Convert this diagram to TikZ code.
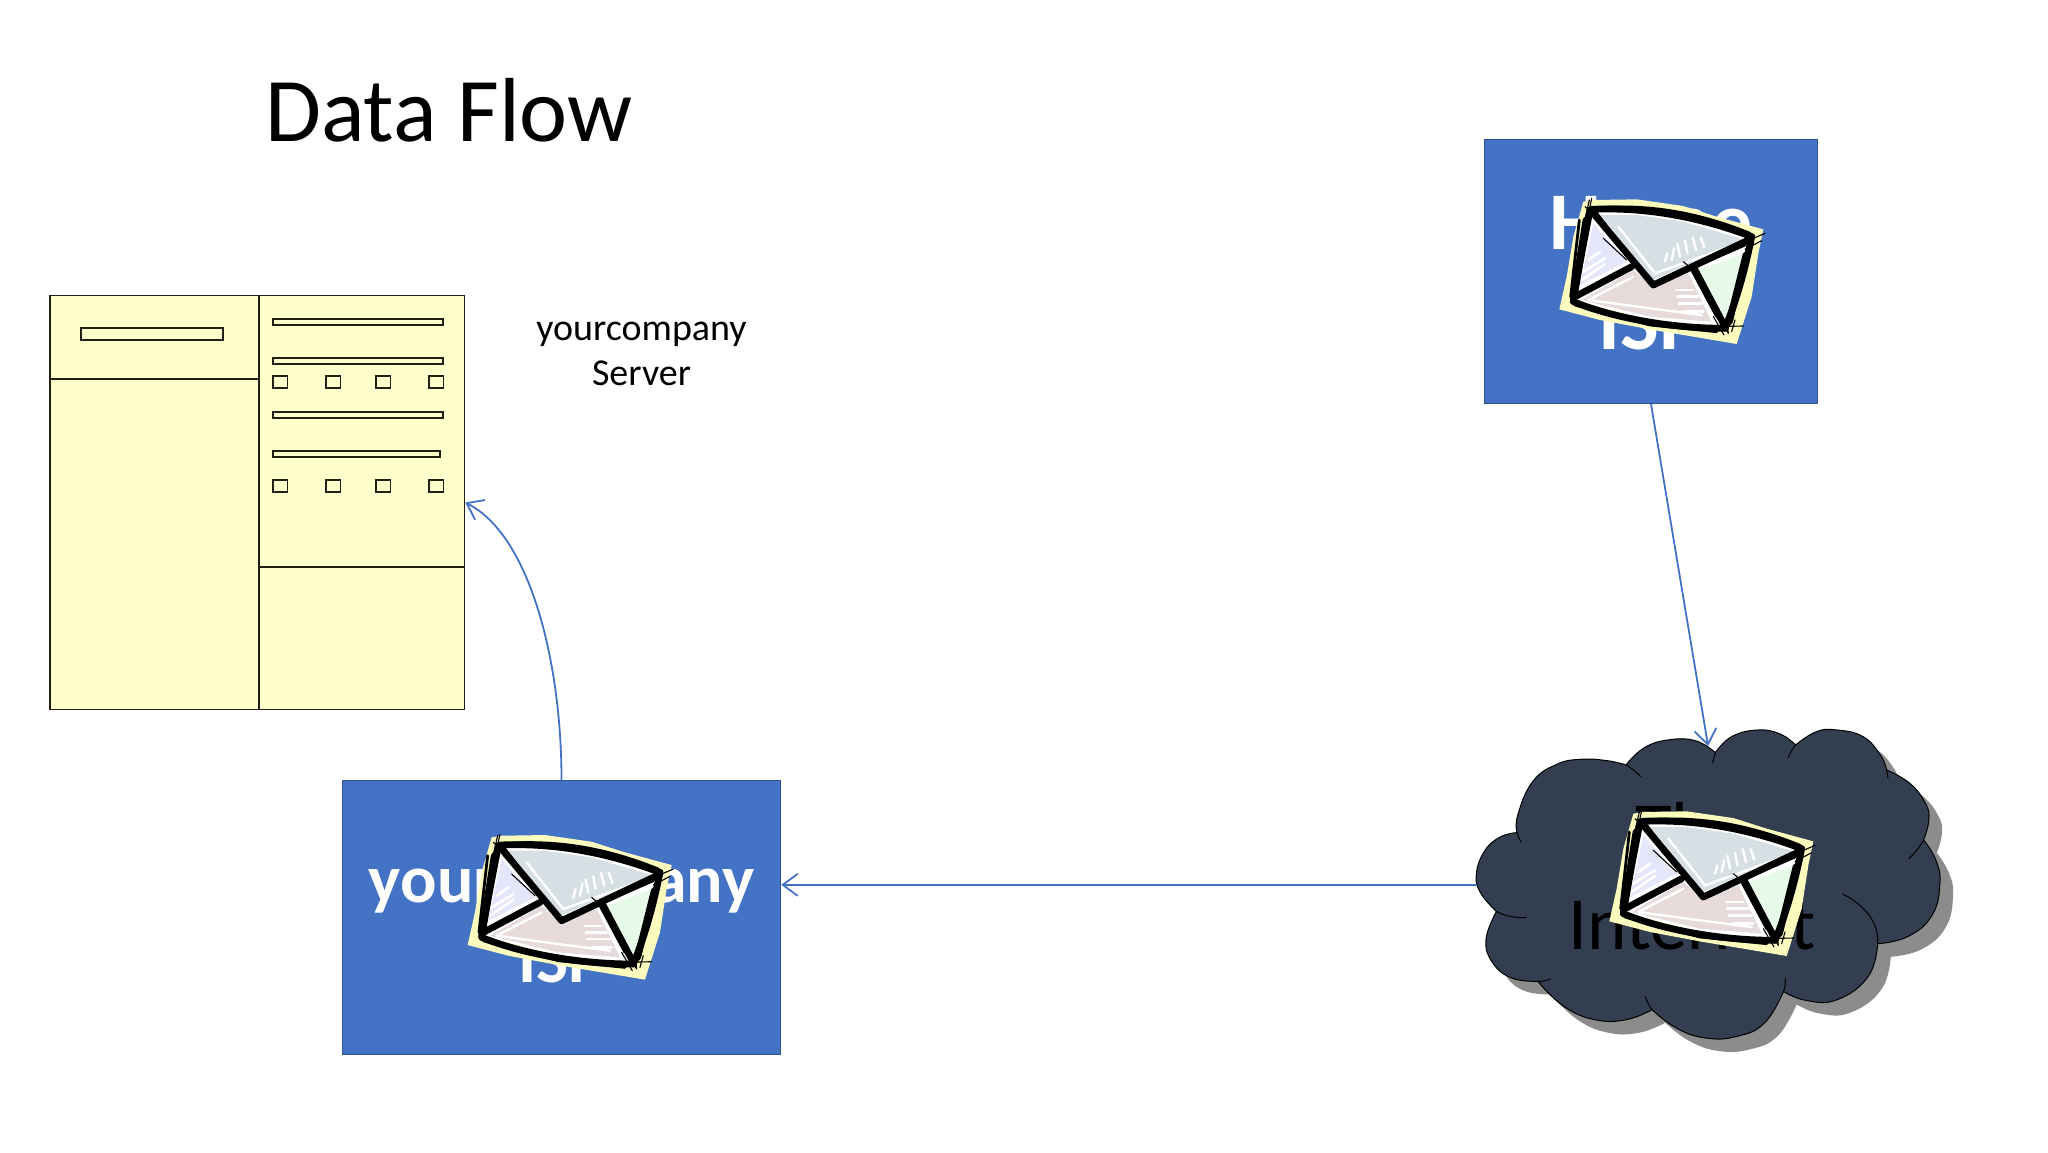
\documentclass[tikz,border=0pt]{standalone}
\usepackage{fontspec}
\setmainfont{Carlito}
\usetikzlibrary{arrows.meta}
\definecolor{ispblue}{HTML}{4472C4}
\definecolor{ispedge}{HTML}{2F528F}
\definecolor{cloudfill}{HTML}{333F50}
\definecolor{cloudshade}{HTML}{8C8C8C}
\definecolor{serverfill}{HTML}{FFFFCC}
\definecolor{serveredge}{HTML}{1F1F14}
\definecolor{mailyellow}{HTML}{FBFBBE}
\definecolor{flapgrey}{HTML}{D6E0E4}
\definecolor{leftlav}{HTML}{E6E6FA}
\definecolor{lowpink}{HTML}{E6DADA}
\definecolor{rightgreen}{HTML}{E6FAE8}
\tikzset{
  ispbox/.style={draw=ispedge,line width=.7pt,fill=ispblue,text=white,align=center,inner sep=0pt,font=\bfseries},
  serverline/.style={draw=serveredge,line width=.8pt},
  serverbar/.style={draw=serveredge,line width=.8pt,fill=serverfill},
  flowline/.style={draw=ispblue,line width=.9pt,-{Straight Barb[length=7.5pt,width=11pt,line width=.9pt]}},
  mailink/.style={draw=black,line width=3.4pt,line cap=round,line join=round},
  mailmid/.style={draw=black,line width=1.4pt,line cap=round},
  mailthin/.style={draw=black,line width=.55pt,line cap=round},
  mailwhite/.style={draw=white,line width=1.2pt,line cap=round},
  cloudarc/.style={draw=black,line width=.5pt}
}
\newcommand{\cloudshape}{
  plot[smooth,tension=.75] coordinates {(105,575)(60,520)(47,465)(70,395)(115,352)(165,338)}
  -- plot[smooth,tension=.75] coordinates {(165,338)(167,285)(210,185)(280,133)(350,118)(425,122)(480,135)}
  -- plot[smooth,tension=.75] coordinates {(480,135)(530,85)(600,60)(680,62)(738,98)}
  -- plot[smooth,tension=.75] coordinates {(738,98)(785,50)(860,30)(925,42)(970,75)}
  -- plot[smooth,tension=.75] coordinates {(970,75)(1030,35)(1090,30)(1165,50)(1215,105)(1233,150)}
  -- plot[smooth,tension=.75] coordinates {(1233,150)(1300,190)(1345,250)(1355,300)(1340,360)}
  -- plot[smooth,tension=.75] coordinates {(1340,360)(1375,420)(1387,490)(1365,585)(1295,650)(1207,672)}
  -- plot[smooth,tension=.75] coordinates {(1207,672)(1180,770)(1090,840)(1000,842)(935,815)}
  -- plot[smooth,tension=.75] coordinates {(935,815)(880,910)(800,950)(710,955)(625,925)(555,870)}
  -- plot[smooth,tension=.75] coordinates {(555,870)(480,900)(390,900)(300,860)(225,785)}
  -- plot[smooth,tension=.75] coordinates {(225,785)(150,775)(95,730)(75,660)(105,575)}
  -- cycle
}
\newcommand{\mailicon}[2]{%
\begin{scope}[shift={(#1,#2)},scale=1/3]
  \fill[mailyellow] (400,245) -- (430,240) -- (560,238) -- (700,258) -- (800,290) -- (940,328) -- (925,400) -- (905,530) -- (860,672) -- (760,655) -- (610,630) -- (450,600) -- (328,568) -- (350,470) -- (370,350) -- (390,280) -- cycle;
  \fill[white] (420,270) -- (560,265) -- (700,285) -- (905,350) -- (825,625) -- (600,600) -- (370,540) -- cycle;
  \fill[flapgrey] (450,285) -- (560,285) -- (700,305) -- (880,358) -- (610,480) -- cycle;
  \fill[leftlav] (430,310) -- (530,425) -- (390,495) -- cycle;
  \fill[lowpink] (395,540) -- (550,450) -- (605,500) -- (715,460) -- (785,605) -- (600,590) -- cycle;
  \fill[rightgreen] (745,450) -- (895,395) -- (830,600) -- cycle;
  \draw[mailwhite] (505,320) -- (615,460) -- (880,365);
  \draw[mailwhite] (645,425) -- (652,400) (665,420) -- (672,385) (690,410) -- (682,372) (712,400) -- (705,362) (738,390) -- (728,352) (762,382) -- (752,352);
  \draw[mailwhite] (395,480) -- (465,432) (400,455) -- (465,415) (415,420) -- (450,395);
  \draw[mailwhite] (415,540) -- (550,470) (415,540) -- (600,565) -- (755,585);
  \draw[mailwhite] (678,510) -- (730,510) (682,530) -- (745,530) (685,550) -- (755,550) (700,575) -- (760,575);
  \draw[mailink] (420,270) -- (395,400) -- (370,540);
  \draw[mailink] (408,300) -- (372,525);
  \draw[mailink] (425,268) .. controls (560,262) and (720,280) .. (905,350);
  \draw[mailink] (905,350) .. controls (885,450) and (860,540) .. (825,625);
  \draw[mailink] (888,405) -- (838,605);
  \draw[mailink] (370,545) .. controls (480,590) and (650,625) .. (825,625);
  \draw[mailink] (430,280) -- (610,495) -- (900,358);
  \draw[mailink] (375,530) -- (545,440);
  \draw[mailink] (735,450) -- (825,620);
  \draw[mailmid] (388,300) -- (362,530) (405,300) -- (382,500);
  \draw[mailmid] (460,262) .. controls (600,255) and (740,275) .. (900,340);
  \draw[mailmid] (880,420) -- (840,610) (870,470) -- (845,600);
  \draw[mailmid] (375,555) -- (600,615) -- (800,635);
  \draw[mailmid] (720,440) -- (800,590) (440,280) -- (540,410) (700,455) -- (885,375);
  \draw[mailthin] (405,260) -- (445,295) (425,235) -- (405,330) (418,240) -- (395,340);
  \draw[mailthin] (945,340) -- (880,368) (935,362) -- (885,388);
  \draw[mailthin] (880,618) -- (790,620) (790,590) -- (822,645) (805,590) -- (835,640) (830,595) -- (835,640) (855,600) -- (845,635);
  \draw[mailthin] (700,425) -- (730,450) (460,355) -- (530,420);
\end{scope}}
\begin{document}
\begin{tikzpicture}[x=.5pt,y=-.5pt]
\useasboundingbox (0,0) rectangle (2048,1152);
% title
\node[inner sep=0pt,font=\fontsize{45.5}{54}\selectfont] (title) at (449,110.5) {Data Flow};
% server window
\node[draw=serveredge,line width=.8pt,fill=serverfill,minimum width=207.2pt,minimum height=207pt,inner sep=0pt] (server) at (257.25,502.5) {};
\draw[serverline] (259,295) -- (259,710) (49.5,379) -- (259,379) (259,567) -- (465,567);
\draw[serverbar] (81,328) rectangle (223,340);
\draw[serverbar] (273,319) rectangle (443,325);
\draw[serverbar] (273,358) rectangle (443,364);
\draw[serverbar] (273,412) rectangle (443,418);
\draw[serverbar] (273,451) rectangle (440,457);
\foreach \sy in {376,480}{
  \foreach \sx in {273,326,376,429}{
    \draw[serverbar] (\sx,\sy) rectangle ++(14.5,12);
  }
}
\node[align=center,inner sep=0pt,font=\fontsize{19}{22.5}\selectfont] (servername) at (641.5,354) {yourcompany\\Server};
% cloud
\begin{scope}[shift={(1460,720)},xscale=.346,yscale=.333]
  \begin{scope}[shift={(38,39)}]
    \fill[cloudshade] \cloudshape;
  \end{scope}
  \draw[fill=cloudfill,draw=black,line width=.5pt] \cloudshape;
  \draw[cloudarc] (165,338) .. controls (168,350) and (172,358) .. (177,368);
  \draw[cloudarc] (480,135) .. controls (495,145) and (510,155) .. (522,170);
  \draw[cloudarc] (738,98) .. controls (735,110) and (732,120) .. (730,130);
  \draw[cloudarc] (970,75) .. controls (960,88) and (953,100) .. (948,115);
  \draw[cloudarc] (1233,150) -- (1237,175);
  \draw[cloudarc] (1340,360) .. controls (1328,382) and (1314,400) .. (1297,417);
  \draw[cloudarc] (1105,522) .. controls (1170,555) and (1212,610) .. (1207,672);
  \draw[cloudarc] (935,815) .. controls (940,802) and (941,788) .. (940,775);
  \draw[cloudarc] (555,870) .. controls (547,858) and (540,845) .. (535,830);
  \draw[cloudarc] (225,785) .. controls (238,785) and (250,782) .. (262,778);
  \draw[cloudarc] (105,575) .. controls (132,590) and (162,595) .. (193,593);
  \coordinate (cloudtop) at (717,78);
  \coordinate (cloudleft) at (48,495);
\end{scope}
\node[align=center,inner sep=0pt,text=black,font=\fontsize{37.5}{47.5}\selectfont] (internet) at (1692,876) {The\\Internet};
% boxes
\node[ispbox,minimum width=166.4pt,minimum height=131.8pt,font=\bfseries\fontsize{41}{50}\selectfont] (homeisp) at (1651,271.5) {\rule{0pt}{28.5pt}Home\\ISP};
\node[ispbox,minimum width=219pt,minimum height=137pt,font=\bfseries\fontsize{34}{40}\selectfont] (coisp) at (561.5,917.5) {\rule{0pt}{25.5pt}yourcompany\\ISP};
% connectors
\draw[flowline] (homeisp.south) -- (cloudtop);
\draw[flowline] (cloudleft) -- (cloudleft -| coisp.east);
\draw[flowline] (coisp.north) .. controls +(0,-120) and +(64,32) .. (server.east);
% mail
\mailicon{1450}{120}
\mailicon{358.3}{755.7}
\mailicon{1500}{732}
\end{tikzpicture}
\end{document}
